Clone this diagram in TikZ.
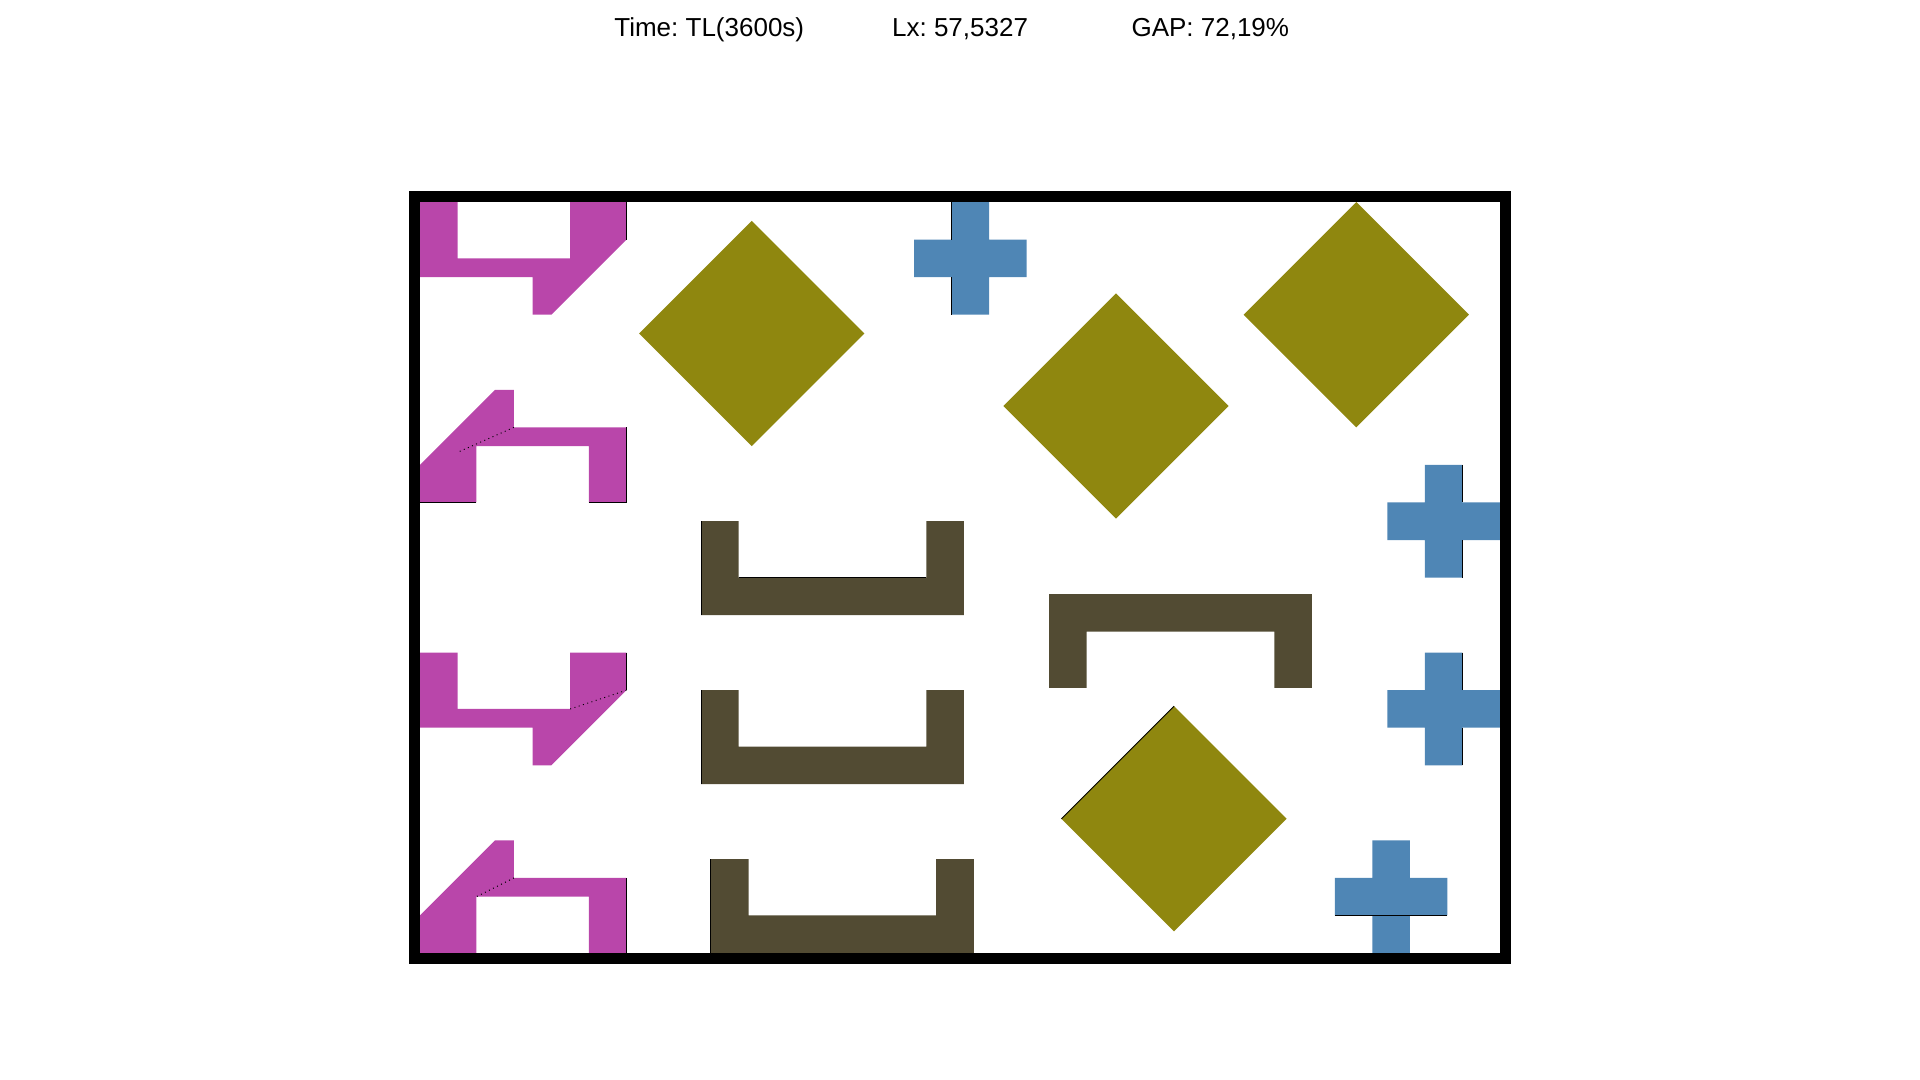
\documentclass[tikz,border=0pt]{standalone}
\usepackage{fontspec}
\setmainfont{Liberation Sans}
\usepackage{tikz}
\definecolor{piecepurple}{HTML}{B946AA}
\definecolor{pieceolive}{HTML}{8F870F}
\definecolor{pieceblue}{HTML}{4F86B5}
\definecolor{piecebrown}{HTML}{524B33}
\tikzset{
  purplepc/.style={fill=piecepurple},
  olivepc/.style={fill=pieceolive},
  bluepc/.style={fill=pieceblue},
  brownpc/.style={fill=piecebrown},
  seam/.style={line width=.55pt,black},
  cutline/.style={line width=.55pt,black,dotted},
  stripbox/.style={line width=.22cm,black},
  headtext/.style={font=\fontsize{14.8pt}{17pt}\selectfont},
}
\frenchspacing
\begin{document}
\begin{tikzpicture}[x=0.37544cm,y=0.37544cm]
  \useasboundingbox (-22.374,-6.765) rectangle (79.906,50.767);
  % header
  \node[headtext] (time) at (15.41,49.2) {Time: TL(3600s)};
  \node[headtext] (lx) at (28.77,49.2) {Lx: 57,5327};
  \node[headtext] (gap) at (42.1,49.2) {GAP: 72,19\%};
  % purple pieces
  \fill[purplepc] (0,40)--(2,40)--(2,37)--(8,37)--(8,40)--(11,40)--(11,38)--(7,34)--(6,34)--(6,36)--(0,36)--cycle;
  \draw[seam] (11,40)--(11,38);
  \fill[purplepc] (0,24)--(3,24)--(3,27)--(9,27)--(9,24)--(11,24)--(11,28)--(5,28)--(5,30)--(4,30)--(0,26)--cycle;
  \draw[seam] (0,24)--(3,24) (9,24)--(11,24)--(11,28);
  \draw[cutline] (5,28)--(2,26.67);
  \fill[purplepc] (0,16)--(2,16)--(2,13)--(8,13)--(8,16)--(11,16)--(11,14)--(7,10)--(6,10)--(6,12)--(0,12)--cycle;
  \draw[seam] (11,16)--(11,14);
  \draw[cutline] (8,13)--(11,14);
  \fill[purplepc] (0,0)--(3,0)--(3,3)--(9,3)--(9,0)--(11,0)--(11,4)--(5,4)--(5,6)--(4,6)--(0,2)--cycle;
  \draw[seam] (11,0)--(11,4);
  \draw[cutline] (5,4)--(3,3);
  % olive diamonds
  \foreach \dx/\dy in {17.67/33, 37.08/29.14, 49.88/34, 40.17/7.15}
    \fill[olivepc] (\dx,\dy+6)--(\dx+6,\dy)--(\dx,\dy-6)--(\dx-6,\dy)--cycle;
  \draw[seam] (34.17,7.15)--(40.17,13.15);
  % brown U pieces
  \foreach \ux/\uy in {14.97/18, 14.97/9, 15.5/0}{
    \fill[brownpc] (\ux,\uy)--(\ux+14,\uy)--(\ux+14,\uy+5)--(\ux+12,\uy+5)--(\ux+12,\uy+2)--(\ux+2,\uy+2)--(\ux+2,\uy+5)--(\ux,\uy+5)--cycle;
    \draw[seam] (\ux,\uy)--(\ux,\uy+5);
  }
  \draw[seam] (16.97,20)--(26.97,20);
  \fill[brownpc] (33.51,19.12)--(47.51,19.12)--(47.51,14.12)--(45.51,14.12)--(45.51,17.12)--(35.51,17.12)--(35.51,14.12)--(33.51,14.12)--cycle;
  % blue crosses
  \foreach \cx/\cy in {26.32/34, 51.5327/20, 51.5327/10, 48.73/0}
    \fill[bluepc] (\cx+2,\cy)--(\cx+4,\cy)--(\cx+4,\cy+2)--(\cx+6,\cy+2)--(\cx+6,\cy+4)--(\cx+4,\cy+4)--(\cx+4,\cy+6)--(\cx+2,\cy+6)--(\cx+2,\cy+4)--(\cx,\cy+4)--(\cx,\cy+2)--(\cx+2,\cy+2)--cycle;
  \draw[seam] (28.32,40)--(28.32,38) (28.32,36)--(28.32,34);
  \draw[seam] (55.5327,26)--(55.5327,24) (55.5327,22)--(55.5327,20);
  \draw[seam] (55.5327,16)--(55.5327,14) (55.5327,12)--(55.5327,10);
  \draw[seam] (48.73,2)--(54.73,2);
  % strip
  \draw[stripbox] (-0.293,-0.293) rectangle (57.826,40.293);
\end{tikzpicture}
\end{document}
